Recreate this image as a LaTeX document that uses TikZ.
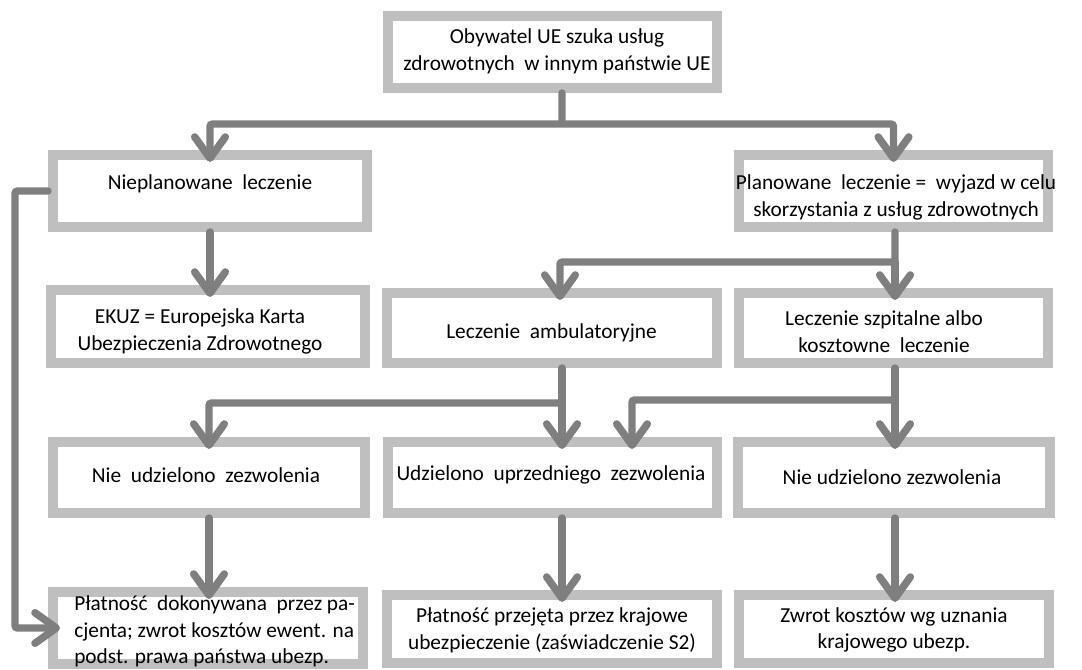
\documentclass[tikz,border=0pt]{standalone}
\usepackage{fontspec}
\setmainfont{Carlito}
\usetikzlibrary{arrows.meta}
\definecolor{boxgray}{HTML}{BFBFBF}
\definecolor{arrgray}{HTML}{7F7F7F}
\begin{document}
\begin{tikzpicture}[x=0.75pt,y=-0.75pt,
  gbox/.style 2 args={draw=boxgray, line width=7.5pt, fill=white, minimum width={#1*0.75pt}, minimum height={#2*0.75pt}, inner sep=0pt},
  txt/.style={font=\fontsize{16pt}{20pt}\selectfont, align=center, inner sep=0pt},
  link/.style={draw=arrgray, line width=5.6pt, rounded corners=2pt, line cap=round},
  arr/.style={link, -{Straight Barb[round,length=16pt,width=23pt]}, shorten >=-9pt}]
\useasboundingbox (0,0) rectangle (1082,670);
% boxes
\node[gbox={329}{72}] (top) at (552.5,52) {};
\node[gbox={314}{72}] (niepl) at (210,191) {};
\node[gbox={309}{72}] (plan) at (893.5,191) {};
\node[gbox={314}{73}] (ekuz) at (208,326.5) {};
\node[gbox={330}{70}] (amb) at (552,328) {};
\node[gbox={309}{70}] (szp) at (893.5,328) {};
\node[gbox={312}{71}] (nie1) at (209,477.5) {};
\node[gbox={329}{71}] (udz) at (552.5,477.5) {};
\node[gbox={312}{71}] (nie2) at (894,477.5) {};
\node[gbox={310}{72}] (plat1) at (208,628) {};
\node[gbox={330}{68}] (plat2) at (552,629) {};
\node[gbox={310}{68}] (zwrot) at (894,629) {};
% bus coordinates
\coordinate (bus1) at (562,124);
\coordinate (bus2) at (895,262);
\coordinate (b2l) at (560,262);
\coordinate (b3) at (562,403);
\coordinate (b4) at (895,400);
\coordinate (b4l) at (632,400);
\coordinate (lx) at (15,0);
% connectors
\draw[arr] (top.south -| bus1) -- (bus1) -| (niepl.north);
\draw[arr] (bus1) -| (plan.north);
\draw[arr] (niepl.south) -- (niepl.south |- ekuz.north);
\draw[arr] (niepl.west) -- (niepl.west -| lx) |- (plat1.west);
\draw[arr] (plan.south -| bus2) -- (bus2) -- (b2l) -- (b2l |- amb.north);
\draw[arr] (bus2) -- (bus2 |- szp.north);
\draw[arr] (amb.south -| b3) -- (b3 |- udz.north);
\draw[arr] (b3) -| (nie1.north);
\draw[arr] (szp.south -| b4) -- (b4 |- nie2.north);
\draw[arr] (b4) -- (b4l) -- (b4l |- udz.north);
\draw[arr] (nie1.south) -- (nie1.south |- plat1.north);
\draw[arr] (udz.south -| b3) -- (b3 |- plat2.north);
\draw[arr] (nie2.south -| b4) -- (b4 |- zwrot.north);
% texts
\node[txt] (ttop) at (557,51.5) {Obywatel UE szuka usług\\zdrowotnych\ \ w innym państwie UE};
\node[txt] (tniepl) at (210,184) {Nieplanowane\ \ leczenie};
\node[txt] (tplan) at (896,197.5) {Planowane\ \ leczenie =\ \ wyjazd w celu\\skorzystania z usług zdrowotnych};
\node[txt] (tekuz) at (200,331.5) {EKUZ = Europejska Karta\\Ubezpieczenia Zdrowotnego};
\node[txt] (tamb) at (551.5,333) {Leczenie\ \ ambulatoryjne};
\node[txt] (tszp) at (884,331.5) {Leczenie szpitalne albo\\kosztowne\ \ leczenie};
\node[txt] (tnie1) at (206,475) {Nie\ \ udzielono\ \ zezwolenia};
\node[txt] (tudz) at (551,475) {Udzielono\ \ uprzedniego\ \ zezwolenia};
\node[txt] (tnie2) at (892,477) {Nie udzielono zezwolenia};
\node[txt, align=left, anchor=west] (tplat1) at (74,631.5) {Płatność\ \ dokonywana\ \ przez pa-\\cjenta; zwrot kosztów ewent. na\\podst. prawa państwa ubezp.};
\node[txt] (tplat2) at (552,630) {Płatność przejęta przez krajowe\\ubezpieczenie (zaświadczenie S2)};
\node[txt] (tzwrot) at (894,630) {Zwrot kosztów wg uznania\\krajowego ubezp.};
\end{tikzpicture}
\end{document}
